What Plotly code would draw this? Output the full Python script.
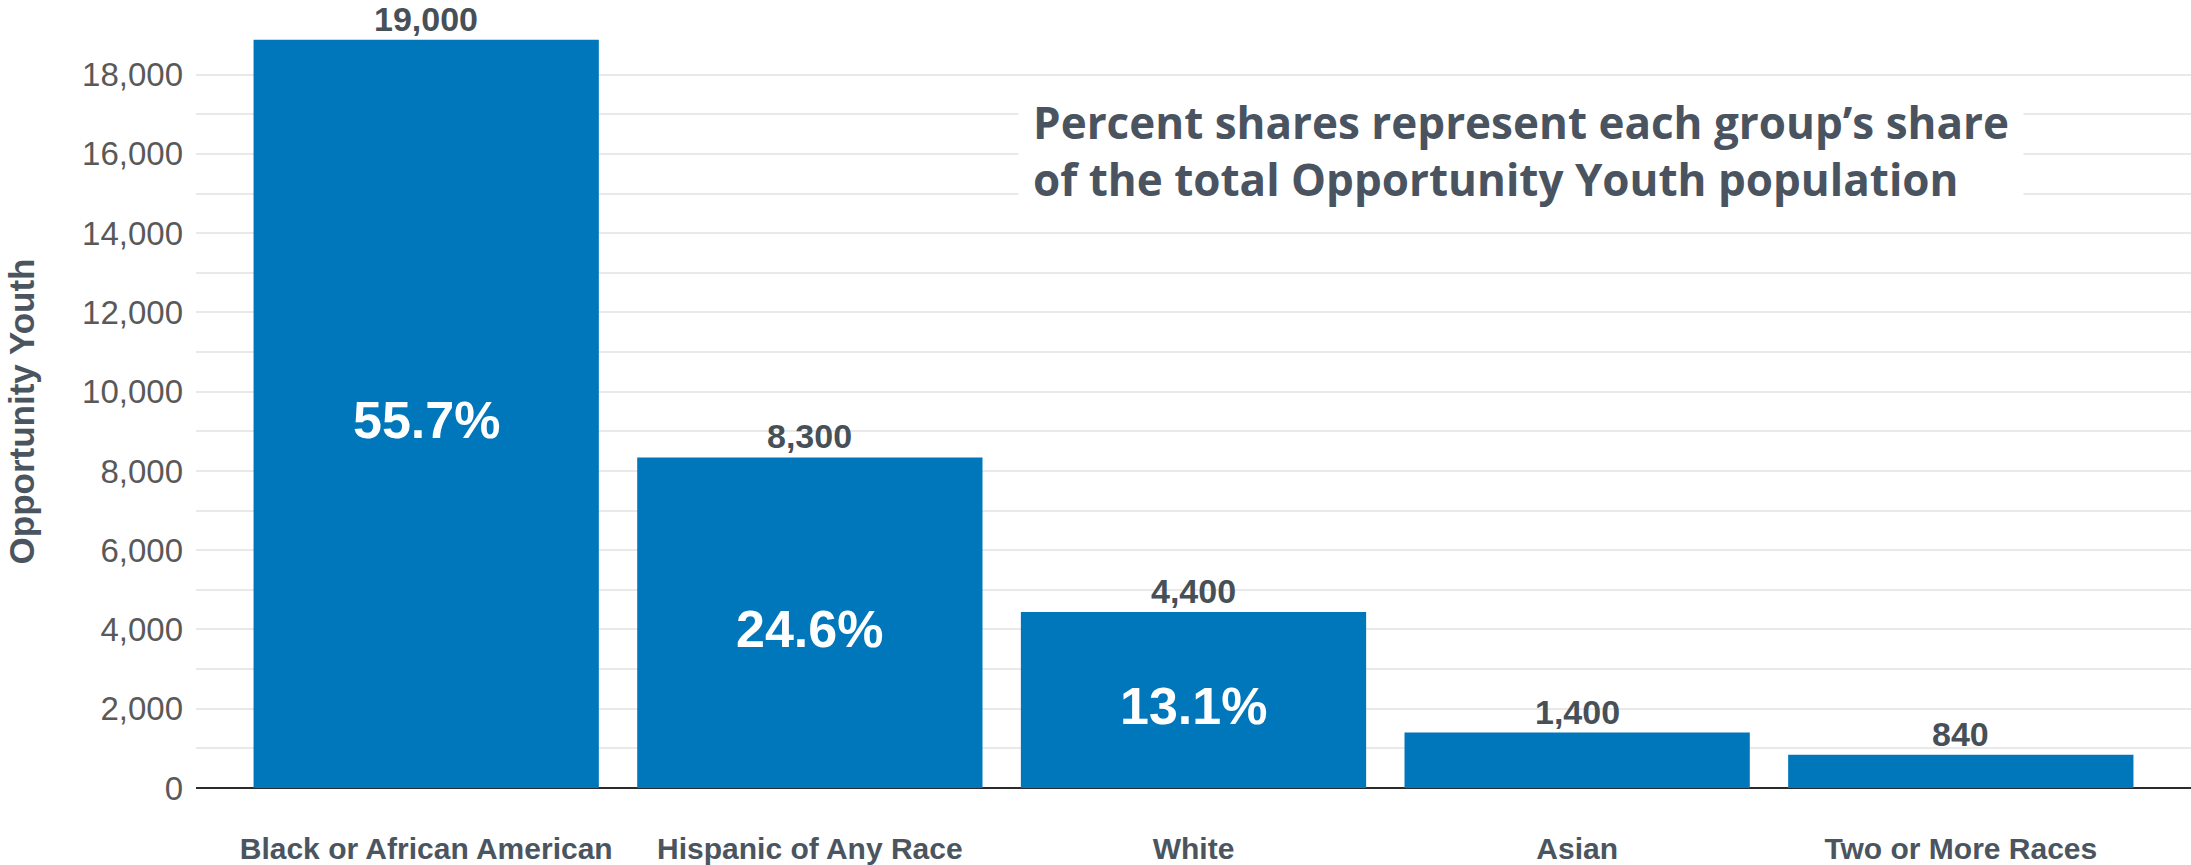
import plotly.graph_objects as go

categories = ["Black or African American", "Hispanic of Any Race", "White", "Asian", "Two or More Races"]
values = [18880, 8340, 4440, 1400, 840]
value_labels = ["19,000", "8,300", "4,400", "1,400", "840"]
share_labels = ["55.7%", "24.6%", "13.1%", "", ""]
y_tick_vals = [0, 2000, 4000, 6000, 8000, 10000, 12000, 14000, 16000, 18000]
y_tick_text = ["0", "2,000", "4,000", "6,000", "8,000", "10,000", "12,000", "14,000", "16,000", "18,000"]
note_text = "Percent shares represent each group\u2019s share<br>of the total Opportunity Youth population"

BAR = "#0077bb"
ARIAL = "Liberation Sans, Arial, sans-serif"

fig = go.Figure()
fig.add_trace(go.Bar(
    x=categories, y=values, marker_color=BAR, marker_line_width=0,
    hoverinfo="skip", showlegend=False,
))
for c, v, lab, share in zip(categories, values, value_labels, share_labels):
    fig.add_annotation(x=c, y=v, text=lab, showarrow=False, xref="x", yref="y",
                       yanchor="bottom", yshift=0,
                       font=dict(family=ARIAL, size=34, color="#474f57", weight="bold"))
    if share:
        fig.add_annotation(x=c, y=v / 2, text=share, showarrow=False, xref="x", yref="y",
                           yanchor="middle", yshift=-6,
                           font=dict(family=ARIAL, size=52, color="white", weight="bold"))

fig.add_annotation(
    xref="paper", yref="paper", x=0.412, y=0.846, xanchor="left", yanchor="middle",
    text=note_text, showarrow=False, align="left", bgcolor="white", borderpad=14,
    font=dict(family="Open Sans, sans-serif", size=44, color="#4a5460", weight="bold"),
)

fig.update_layout(
    width=2191, height=865,
    margin=dict(l=196, r=0, t=35, b=77),
    paper_bgcolor="white", plot_bgcolor="white",
    bargap=0.10,
    xaxis=dict(
        range=[-0.6, 4.6], showgrid=False, showline=False, zeroline=False,
        ticks="", ticklabelstandoff=40,
        tickfont=dict(family=ARIAL, size=30, color="#4b5560", weight="bold"),
    ),
    yaxis=dict(
        range=[0, 19000], tickvals=y_tick_vals, ticktext=y_tick_text,
        showgrid=True, gridcolor="#e9e9e9", gridwidth=2,
        minor=dict(dtick=1000, tick0=0, showgrid=True, gridcolor="#e9e9e9", gridwidth=2),
        zeroline=True, zerolinecolor="#2b2b2b", zerolinewidth=2,
        ticks="", automargin=False, ticklabelstandoff=12,
        tickfont=dict(family=ARIAL, size=33, color="#595959"),
        title=dict(text="Opportunity Youth", standoff=36,
                   font=dict(family=ARIAL, size=35, color="#4b5560", weight="bold")),
    ),
)

fig.write_html("out.html", config={"displayModeBar": False},
               post_script="document.body.style.margin='0px';")
